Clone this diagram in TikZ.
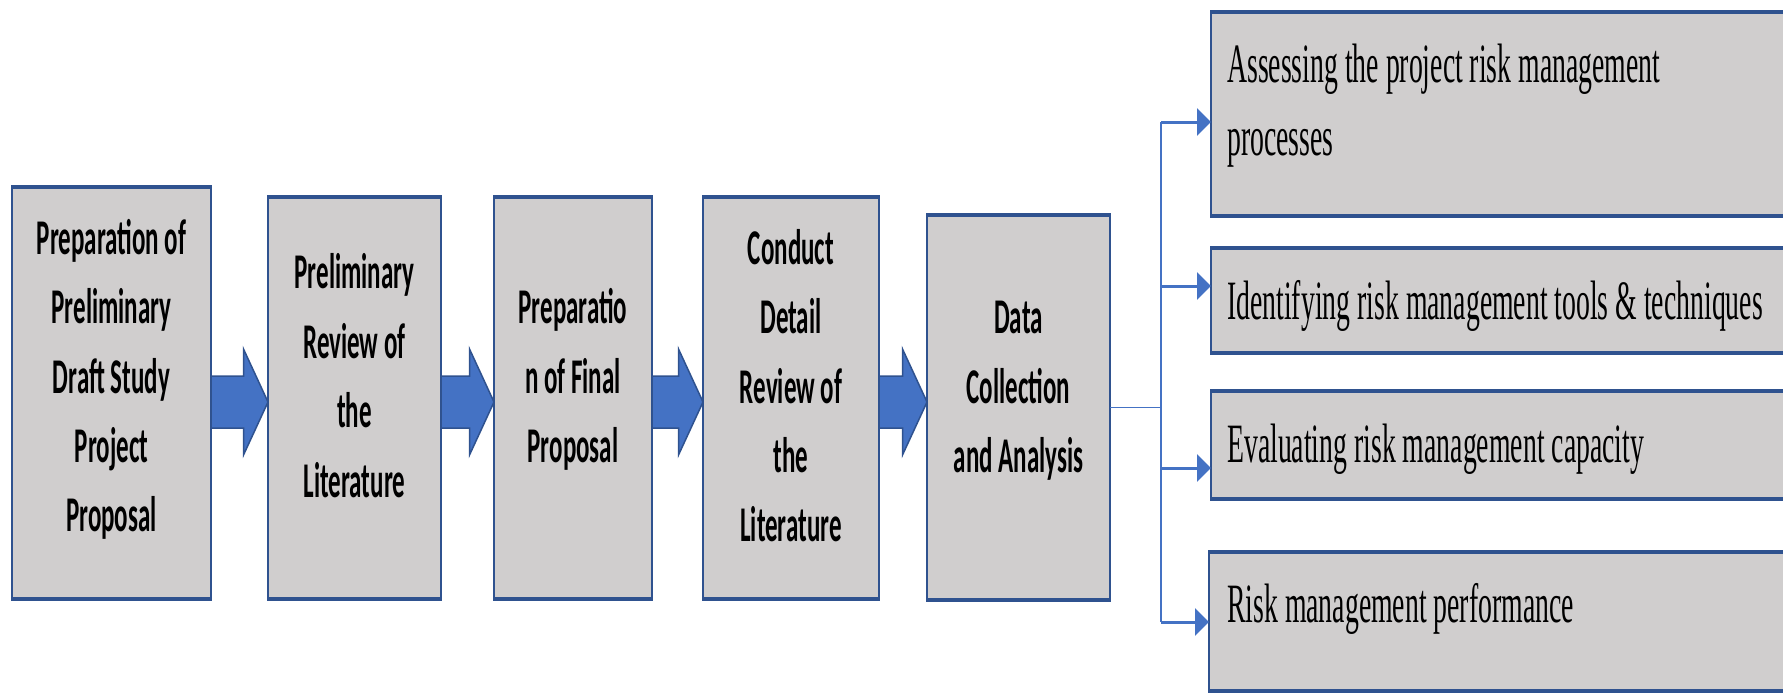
\documentclass[tikz,border=0pt]{standalone}
\usepackage{fontspec}
\usetikzlibrary{arrows.meta,calc}
\newfontfamily\lbfont[FakeStretch=0.5]{Carlito}
\newfontfamily\rtfont[FakeStretch=0.5]{Liberation Serif}
\definecolor{boxfill}{HTML}{D0CECE}
\definecolor{boxedge}{HTML}{2F528F}
\definecolor{arrowblue}{HTML}{4472C4}
\newcommand\lstrut{\rule[-0.3em]{0pt}{1.3em}}
\newcommand\blockarr[2]{%
  \draw[blockarrow] ($(#1.east|-ay)+(0,-26)$) -- ($(#2.west|-ay)+(-24.5,-26)$)
    -- ($(#2.west|-ay)+(-24.5,-53)$) -- (#2.west|-ay)
    -- ($(#2.west|-ay)+(-24.5,53)$) -- ($(#2.west|-ay)+(-24.5,26)$)
    -- ($(#1.east|-ay)+(0,26)$) -- cycle;}
\begin{document}
\begin{tikzpicture}[x=1pt,y=-1pt,
  box/.style={draw=boxedge, fill=boxfill, line width=2pt, inner sep=0pt, outer sep=0pt},
  boxrule/.style={draw=boxedge, line width=4pt, shorten <=-1pt, shorten >=-1pt},
  steptext/.style={font=\lbfont\bfseries\fontsize{50}{69.4}\selectfont, align=center, inner sep=0pt},
  outtext/.style={font=\rtfont\fontsize{55.5}{73}\selectfont, align=left, inner sep=0pt, anchor=west},
  blockarrow/.style={fill=arrowblue, draw=boxedge, line width=1.5pt, line join=miter},
  trunk/.style={draw=arrowblue, line width=1.6pt},
  branch/.style={draw=arrowblue, line width=3pt, -{Triangle[length=14pt,width=27pt]}},
]
\useasboundingbox (0,0) rectangle (1783,693);
\clip (0,0) rectangle (1783,693);

% process boxes
\node[box, minimum width=199pt, minimum height=412pt] (b1) at (111.5,393) {};
\node[box, minimum width=173pt, minimum height=402pt] (b2) at (354.5,398) {};
\node[box, minimum width=158pt, minimum height=402pt] (b3) at (573,398) {};
\node[box, minimum width=176pt, minimum height=402pt] (b4) at (791,398) {};
\node[box, minimum width=183pt, minimum height=385pt] (b5) at (1018.5,407.5) {};
% outcome boxes
\node[box, minimum width=589pt, minimum height=204pt] (rA) at (1505.5,114) {};
\node[box, minimum width=589pt, minimum height=105pt] (rB) at (1505.5,300.5) {};
\node[box, minimum width=589pt, minimum height=108pt] (rC) at (1505.5,445) {};
\node[box, minimum width=591pt, minimum height=139pt] (rD) at (1504.5,621.5) {};

\foreach \n in {b1,b2,b3,b4,b5,rA,rB,rC,rD}{
  \draw[boxrule] (\n.north west) -- (\n.north east);
  \draw[boxrule] (\n.south west) -- (\n.south east);
}

% texts
\node[steptext] (t1) at (111.5,375.5) {\lstrut Preparation of\\\lstrut Preliminary\\\lstrut Draft Study\\\lstrut Project\\\lstrut Proposal};
\node[steptext] (t2) at (354.5,375.5) {\lstrut Preliminary\\\lstrut Review of\\\lstrut the\\\lstrut Literature};
\node[steptext] (t3) at (573,375.5) {\lstrut Preparatio\\\lstrut n of Final\\\lstrut Proposal};
\node[steptext] (t4) at (791,385.5) {\lstrut Conduct\\\lstrut Detail\\\lstrut Review of\\\lstrut the\\\lstrut Literature};
\node[steptext] (t5) at (1018.5,385.5) {\lstrut Data\\\lstrut Collection\\\lstrut and Analysis};

\node[outtext] (tA) at (1227,99.1) {\lstrut Assessing the project risk management\\\lstrut processes};
\node[outtext] (tB) at (1227,299.6) {\lstrut Identifying risk management tools \& techniques};
\node[outtext] (tC) at (1227,442.6) {\lstrut Evaluating risk management capacity};
\node[outtext] (tD) at (1227,602.6) {\lstrut Risk management performance};

% block arrows
\coordinate (ay) at (0,402);
\blockarr{b1}{b2}
\blockarr{b2}{b3}
\blockarr{b3}{b4}
\blockarr{b4}{b5}

% branching connector
\coordinate (jA) at (1161,122);
\coordinate (jB) at (1161,286);
\coordinate (jC) at (1161,468);
\coordinate (jD) at (1161,622);
\draw[trunk] (b5.east) -- (b5.east -| jA);
\draw[trunk] (jA) -- (jD);
\draw[branch] (jA) -- (jA -| rA.west);
\draw[branch] (jB) -- (jB -| rB.west);
\draw[branch] (jC) -- (jC -| rC.west);
\draw[branch] (jD) -- (jD -| rD.west);
\end{tikzpicture}
\end{document}
